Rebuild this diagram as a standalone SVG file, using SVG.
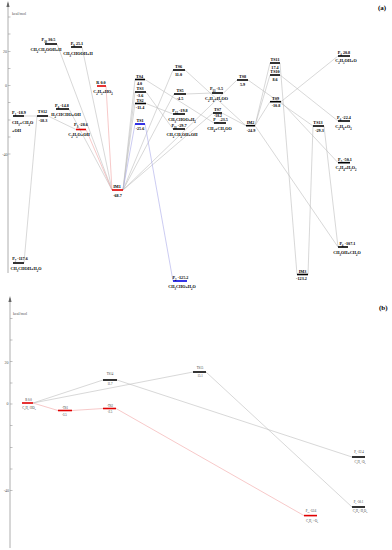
<svg xmlns="http://www.w3.org/2000/svg" width="392" height="550" viewBox="0 0 392 550">
<style>
.bg{fill:#fff}
.ax{stroke:#999;stroke-width:0.8;fill:none}
.tk{stroke:#999;stroke-width:0.6}
.bar{stroke:#000;stroke-width:1.6}
.red{stroke:#e00000}
.blue{stroke:#0000e0}
.ln{stroke:#bdbdbd;stroke-width:0.6;fill:none}
.lr{stroke:#f2a4a4}
.lb{stroke:#aaaaea}
.t{font-family:"Liberation Serif",serif;font-size:4.2px;font-weight:bold;text-anchor:middle;fill:#000}
.tb{font-family:"Liberation Serif",serif;font-size:3px;text-anchor:middle;fill:#333}
.ax-t{font-family:"Liberation Serif",serif;font-size:4px;fill:#555}
.ax-n{font-family:"Liberation Serif",serif;font-size:4px;fill:#555;text-anchor:end}
.pl{font-family:"Liberation Serif",serif;font-size:7px;font-weight:bold;fill:#000}
.s{font-size:70%;baseline-shift:sub}
.u{font-size:70%;baseline-shift:super}
</style>
<rect class="bg" x="0" y="0" width="392" height="550"/>

<!-- Panel (a) axis -->
<g id="axis-a">
<line class="ax" x1="8" y1="273" x2="8" y2="3"/>
<path d="M8,1 L6.4,7 L9.6,7 Z" fill="#666"/>
<line class="tk" x1="8" y1="17" x2="10.5" y2="17"/>
<line class="tk" x1="8" y1="34" x2="10.5" y2="34"/>
<line class="tk" x1="8" y1="51.5" x2="10.5" y2="51.5"/>
<line class="tk" x1="8" y1="68.5" x2="10.5" y2="68.5"/>
<line class="tk" x1="8" y1="85.5" x2="10.5" y2="85.5"/>
<line class="tk" x1="8" y1="102.5" x2="10.5" y2="102.5"/>
<line class="tk" x1="8" y1="120" x2="10.5" y2="120"/>
<line class="tk" x1="8" y1="137" x2="10.5" y2="137"/>
<line class="tk" x1="8" y1="154" x2="10.5" y2="154"/>
<text class="ax-t" x="12" y="14.5">kcal/mol</text>
<text class="ax-n" x="7" y="53">20</text>
<text class="ax-n" x="7" y="87">0</text>
<text class="ax-n" x="7.5" y="155.5">-40</text>
<text class="pl" x="378" y="10">(a)</text>
</g>

<!-- Panel (a) connectors -->
<g id="connectors-a">
<line class="ln" x1="57" y1="44" x2="112" y2="190"/>
<line class="ln" x1="82" y1="47" x2="112" y2="190"/>
<line class="ln" x1="69" y1="109" x2="112" y2="190"/>
<line class="ln" x1="24" y1="116" x2="37" y2="116"/>
<line class="ln" x1="48" y1="116" x2="76" y2="129.5"/>
<line class="ln" x1="24" y1="263" x2="37" y2="116"/>
<line class="ln lr" x1="106" y1="86" x2="112" y2="190"/>
<line class="ln lr" x1="86" y1="129.5" x2="112" y2="190"/>
<line class="ln" x1="123" y1="190" x2="135" y2="79.5"/>
<line class="ln" x1="123" y1="190" x2="135" y2="92"/>
<line class="ln" x1="123" y1="190" x2="135" y2="103.5"/>
<line class="ln lb" x1="123" y1="190" x2="135" y2="124"/>
<line class="ln" x1="123" y1="190" x2="173" y2="70"/>
<line class="ln" x1="123" y1="190" x2="174" y2="94"/>
<line class="ln" x1="123" y1="190" x2="213" y2="113"/>
<line class="ln" x1="123" y1="190" x2="237" y2="80"/>
<line class="ln lb" x1="145" y1="124" x2="173" y2="281"/>
<line class="ln" x1="146" y1="103.5" x2="173" y2="114"/>
<line class="ln" x1="146" y1="92" x2="173" y2="129"/>
<line class="ln" x1="145" y1="79.5" x2="214" y2="123"/>
<line class="ln" x1="186" y1="94" x2="212" y2="93"/>
<line class="ln" x1="185" y1="70" x2="246" y2="125.7"/>
<line class="ln" x1="222" y1="113" x2="246" y2="125.7"/>
<line class="ln" x1="248" y1="80" x2="313" y2="126"/>
<line class="ln" x1="255" y1="125.7" x2="270" y2="63"/>
<line class="ln" x1="255" y1="125.7" x2="270" y2="75"/>
<line class="ln" x1="255" y1="125.7" x2="270" y2="101.7"/>
<line class="ln" x1="255" y1="125.7" x2="338" y2="247"/>
<line class="ln" x1="281" y1="101.7" x2="338" y2="56"/>
<line class="ln" x1="281" y1="101.7" x2="338" y2="162.7"/>
<line class="ln" x1="280" y1="75" x2="338" y2="121"/>
<line class="ln" x1="280" y1="63" x2="297" y2="274.5"/>
<line class="ln" x1="308" y1="274.5" x2="313" y2="126"/>
<line class="ln" x1="324" y1="126" x2="338" y2="247"/>
</g>

<!-- Panel (a) nodes -->
<g id="P10"><line class="bar" x1="45" y1="44" x2="57" y2="44"/>
<text class="t" x="48.5" y="40.6">P<tspan class="s">10</tspan> 30.5</text>
<text class="t" x="46" y="50.6">CH<tspan class="s">2</tspan>CH<tspan class="s">2</tspan>OOH+H</text></g>
<g id="P9"><line class="bar" x1="71" y1="47" x2="82" y2="47"/>
<text class="t" x="77" y="45.2">P<tspan class="s">9</tspan> 25.1</text>
<text class="t" x="78" y="55.4">CH<tspan class="s">3</tspan>CHOOH+H</text></g>
<g id="R"><line class="bar red" x1="97" y1="86" x2="106" y2="86"/>
<text class="t" x="101" y="83.6">R 0.0</text>
<text class="t" x="103" y="93.4">C<tspan class="s">2</tspan>H<tspan class="s">5</tspan>+HO<tspan class="s">2</tspan></text></g>
<g id="P1"><line class="bar" x1="13" y1="116" x2="24" y2="116"/>
<text class="t" x="19" y="113.6">P<tspan class="s">1</tspan> -18.9</text>
<text class="t" x="12" y="124.4" style="text-anchor:start">CH<tspan class="s">3</tspan>+CH<tspan class="s">2</tspan>O</text>
<text class="t" x="12" y="131.6" style="text-anchor:start">+OH</text></g>
<g id="TS12"><line class="bar" x1="37" y1="116" x2="48" y2="116"/>
<text class="t" x="42.5" y="113.4">TS12</text>
<text class="t" x="43" y="122">-18.3</text></g>
<g id="P8"><line class="bar" x1="56" y1="109" x2="69" y2="109"/>
<text class="t" x="62" y="107.2">P<tspan class="s">8</tspan> -14.8</text>
<text class="t" x="66" y="115.8">H<tspan class="s">2</tspan>CHCHO+OH</text></g>
<g id="P3"><line class="bar red" x1="76" y1="129.5" x2="86" y2="129.5"/>
<text class="t" x="81" y="126.4">P<tspan class="s">3</tspan> -28.6</text>
<text class="t" x="79" y="136.4">C<tspan class="s">2</tspan>H<tspan class="s">5</tspan>O+OH</text></g>
<g id="IM1"><line class="bar red" x1="112" y1="190" x2="123" y2="190"/>
<text class="t" x="117" y="188">IM1</text>
<text class="t" x="117.5" y="197.4">-68.7</text></g>
<g id="P7"><line class="bar" x1="13" y1="263" x2="24" y2="263"/>
<text class="t" x="20" y="260.4">P<tspan class="s">7</tspan> -117.6</text>
<text class="t" x="26" y="270.4">CH<tspan class="s">3</tspan>CHOH+H<tspan class="s">2</tspan>O</text></g>
<g id="TS4"><line class="bar" x1="135" y1="79.5" x2="145" y2="79.5"/>
<text class="t" x="139.5" y="77.6">TS4</text>
<text class="t" x="139.5" y="85.4">4.0</text></g>
<g id="TS3"><line class="bar" x1="135" y1="92" x2="146" y2="92"/>
<text class="t" x="140" y="90.2">TS3</text>
<text class="t" x="140" y="97.4">-3.6</text></g>
<g id="TS2"><line class="bar" x1="135" y1="103.5" x2="146" y2="103.5"/>
<text class="t" x="140" y="101.7">TS2</text>
<text class="t" x="140" y="109.4">-11.4</text></g>
<g id="TS1"><line class="bar blue" x1="135" y1="124" x2="145" y2="124"/>
<text class="t" x="140" y="122.2">TS1</text>
<text class="t" x="140" y="129.9">-25.6</text></g>
<g id="TS6"><line class="bar" x1="173" y1="70" x2="185" y2="70"/>
<text class="t" x="178.5" y="67.6">TS6</text>
<text class="t" x="178.5" y="76.2">11.0</text></g>
<g id="TS5"><line class="bar" x1="174" y1="94" x2="186" y2="94"/>
<text class="t" x="180" y="91.6">TS5</text>
<text class="t" x="180" y="99.6">-4.5</text></g>
<g id="P13"><line class="bar" x1="212" y1="93" x2="223" y2="93"/>
<text class="t" x="216.5" y="90.2">P<tspan class="s">13</tspan> -3.5</text>
<text class="t" x="216.5" y="100.4">C<tspan class="s">2</tspan>H<tspan class="s">4</tspan>+H<tspan class="s">2</tspan>OO</text></g>
<g id="P12"><line class="bar" x1="173" y1="114" x2="185" y2="114"/>
<text class="t" x="180" y="112.2">P<tspan class="s">12</tspan> -19.8</text>
<text class="t" x="182" y="121.4">CH<tspan class="s">3</tspan>CHOO+H<tspan class="s">2</tspan></text></g>
<g id="P11"><line class="bar" x1="173" y1="129" x2="185" y2="129"/>
<text class="t" x="179" y="127.2">P<tspan class="s">11</tspan> -29.7</text>
<text class="t" x="182" y="135.6">CH<tspan class="s">2</tspan>CH<tspan class="s">2</tspan>OH+OH</text></g>
<g id="TS7"><line class="bar" x1="213" y1="113" x2="222" y2="113"/>
<text class="t" x="217.5" y="111.3">TS7</text>
<text class="t" x="218" y="117.2" style="font-size:3.8px">-18.2</text></g>
<g id="P14"><line class="bar" x1="214" y1="123" x2="226" y2="123"/>
<text class="t" x="220.5" y="121.4" style="font-size:4px">P<tspan class="s">14</tspan> -23.5</text>
<text class="t" x="219.5" y="130">CH<tspan class="s">4</tspan>+CH<tspan class="s">2</tspan>OO</text></g>
<g id="TS8"><line class="bar" x1="237" y1="80" x2="248" y2="80"/>
<text class="t" x="242.5" y="78">TS8</text>
<text class="t" x="242.5" y="85.9">5.9</text></g>
<g id="IM2"><line class="bar" x1="246" y1="125.7" x2="255" y2="125.7"/>
<text class="t" x="250.5" y="123.8">IM2</text>
<text class="t" x="251" y="132.4">-24.9</text></g>
<g id="TS11"><line class="bar" x1="270" y1="63" x2="280" y2="63"/>
<text class="t" x="275" y="61.2">TS11</text>
<text class="t" x="275" y="68.6">17.4</text></g>
<g id="TS10"><line class="bar" x1="270" y1="75" x2="280" y2="75"/>
<text class="t" x="275" y="73.2">TS10</text>
<text class="t" x="275" y="80.6">8.6</text></g>
<g id="TS9"><line class="bar" x1="270" y1="101.7" x2="281" y2="101.7"/>
<text class="t" x="275.5" y="99.9">TS9</text>
<text class="t" x="276" y="107.4">-10.8</text></g>
<g id="P4"><line class="bar" x1="338" y1="56" x2="350" y2="56"/>
<text class="t" x="344" y="54.2">P<tspan class="s">4</tspan> 20.8</text>
<text class="t" x="346" y="62.4">C<tspan class="s">2</tspan>H<tspan class="s">5</tspan>OH+O</text></g>
<g id="P6"><line class="bar" x1="338" y1="121" x2="350" y2="121"/>
<text class="t" x="344" y="119">P<tspan class="s">6</tspan> -22.4</text>
<text class="t" x="343.5" y="128.4">C<tspan class="s">2</tspan>H<tspan class="s">6</tspan>+O<tspan class="s">2</tspan></text></g>
<g id="TS13"><line class="bar" x1="313" y1="126" x2="324" y2="126"/>
<text class="t" x="318" y="124.2">TS13</text>
<text class="t" x="319.5" y="132.4">-29.3</text></g>
<g id="P5"><line class="bar" x1="338" y1="162.7" x2="350" y2="162.7"/>
<text class="t" x="345" y="161">P<tspan class="s">5</tspan> -50.1</text>
<text class="t" x="346" y="169.4">C<tspan class="s">2</tspan>H<tspan class="s">4</tspan>+H<tspan class="s">2</tspan>O<tspan class="s">2</tspan></text></g>
<g id="P15"><line class="bar" x1="338" y1="247" x2="348" y2="247"/>
<text class="t" x="347.5" y="244.6">P<tspan class="s">6</tspan> -107.1</text>
<text class="t" x="347" y="254.4">CH<tspan class="s">3</tspan>OH+CH<tspan class="s">2</tspan>O</text></g>
<g id="IM3"><line class="bar" x1="297" y1="274.5" x2="308" y2="274.5"/>
<text class="t" x="302.5" y="272.8">IM3</text>
<text class="t" x="301.5" y="279.6">-123.2</text></g>
<g id="P2"><line class="bar blue" x1="173" y1="281" x2="187" y2="281"/>
<text class="t" x="180.5" y="278.8">P<tspan class="s">2</tspan> -125.2</text>
<text class="t" x="182" y="287.6">CH<tspan class="s">3</tspan>CHO+H<tspan class="s">2</tspan>O</text></g>

<!-- Panel (b) axis -->
<g id="axis-b">
<line class="ax" x1="10" y1="548" x2="10" y2="298"/>
<path d="M10,296 L8.4,302 L11.6,302 Z" fill="#666"/>
<line class="tk" x1="10" y1="318.5" x2="12.5" y2="318.5"/>
<line class="tk" x1="10" y1="340" x2="12.5" y2="340"/>
<line class="tk" x1="10" y1="361.5" x2="12.5" y2="361.5"/>
<line class="tk" x1="10" y1="383" x2="12.5" y2="383"/>
<line class="tk" x1="10" y1="404" x2="12.5" y2="404"/>
<line class="tk" x1="10" y1="425.5" x2="12.5" y2="425.5"/>
<line class="tk" x1="10" y1="447.5" x2="12.5" y2="447.5"/>
<line class="tk" x1="10" y1="469" x2="12.5" y2="469"/>
<line class="tk" x1="10" y1="490.5" x2="12.5" y2="490.5"/>
<text class="ax-t" x="13" y="314.5">kcal/mol</text>
<text class="ax-n" x="8.5" y="363.5">20</text>
<text class="ax-n" x="8.5" y="405">0</text>
<text class="ax-n" x="9" y="492">-40</text>
<text class="pl" x="379" y="310">(b)</text>
</g>

<!-- Panel (b) connectors -->
<g id="connectors-b">
<line class="ln lr" x1="33" y1="403" x2="58" y2="410.5"/>
<line class="ln lr" x1="72" y1="410.5" x2="103" y2="408.5"/>
<line class="ln lr" x1="116" y1="408.5" x2="304" y2="515.6"/>
<line class="ln" x1="33" y1="403" x2="103" y2="380"/>
<line class="ln" x1="33" y1="403" x2="193" y2="372"/>
<line class="ln" x1="117" y1="380" x2="352" y2="457"/>
<line class="ln" x1="206" y1="372" x2="352" y2="507"/>
</g>

<!-- Panel (b) nodes -->
<g id="b-R"><line class="bar red" x1="22" y1="403" x2="33" y2="403"/>
<text class="tb" x="28.5" y="401">R 0.0</text>
<text class="tb" x="29" y="408.6">C<tspan class="s">2</tspan>H<tspan class="s">5</tspan>+HO<tspan class="s">2</tspan></text></g>
<g id="b-3TS1"><line class="bar red" x1="58" y1="410.5" x2="72" y2="410.5"/>
<text class="tb" x="65" y="408.8"><tspan class="u">3</tspan>TS1</text>
<text class="tb" x="64.5" y="416">-3.5</text></g>
<g id="b-3TS2"><line class="bar red" x1="103" y1="408.5" x2="116" y2="408.5"/>
<text class="tb" x="110" y="406.9"><tspan class="u">3</tspan>TS2</text>
<text class="tb" x="110" y="413.4">-2.5</text></g>
<g id="b-TS14"><line class="bar" x1="103" y1="380" x2="117" y2="380"/>
<text class="tb" x="110" y="375.2">TS14</text>
<text class="tb" x="110" y="384.6">11.7</text></g>
<g id="b-TS15"><line class="bar" x1="193" y1="372" x2="206" y2="372"/>
<text class="tb" x="200" y="368.6">TS15</text>
<text class="tb" x="200" y="377">15.1</text></g>
<g id="b-P6"><line class="bar" x1="352" y1="457" x2="365" y2="457"/>
<text class="tb" x="359" y="453.2">P<tspan class="s">6</tspan> -22.4</text>
<text class="tb" x="360" y="463">C<tspan class="s">2</tspan>H<tspan class="s">6</tspan>+O<tspan class="s">2</tspan></text></g>
<g id="b-P5"><line class="bar" x1="352" y1="507" x2="365" y2="507"/>
<text class="tb" x="358.5" y="503.2">P<tspan class="s">5</tspan> -50.1</text>
<text class="tb" x="360" y="512.2">C<tspan class="s">2</tspan>H<tspan class="s">4</tspan>+H<tspan class="s">2</tspan>O<tspan class="s">2</tspan></text></g>
<g id="b-P15"><line class="bar red" x1="304" y1="515.6" x2="317" y2="515.6"/>
<text class="tb" x="311" y="512.2">P<tspan class="s">15</tspan> -53.6</text>
<text class="tb" x="312" y="522">C<tspan class="s">2</tspan>H<tspan class="s">6</tspan>+<tspan class="u">3</tspan>O<tspan class="s">2</tspan></text></g>
</svg>
